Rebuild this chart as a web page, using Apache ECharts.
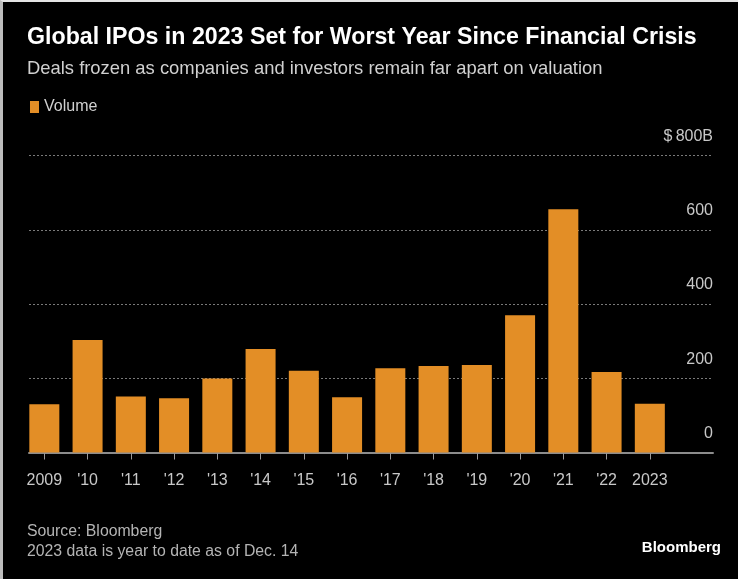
<!DOCTYPE html>
<html>
<head>
<meta charset="utf-8">
<script src="https://cdn.jsdelivr.net/npm/echarts@6/dist/echarts.min.js"></script>
<style>
  html, body { margin: 0; padding: 0; background: #000; }
  #frame { width: 738px; height: 579px; box-sizing: border-box; border-top: 2px solid #e4e4e4; border-left: 3px solid #bdbdbd; background: #000; }
  #chart { width: 735px; height: 577px; }
</style>
</head>
<body>
<div id="frame"><div id="chart"></div></div>
<script>
// Global IPO volume by year, $ billions (2023 is year to date)
const years = ['2009', "'10", "'11", "'12", "'13", "'14", "'15", "'16", "'17", "'18", "'19", "'20", "'21", "'22", '2023'];
const volume = [130, 303, 151, 146, 199, 279, 220, 149, 227, 233, 236, 370, 655, 217, 131];

// Right-hand value axis ticks
const yTickValues = [0, 200, 400, 600, 800];
const yTickLabels = ['0', '200', '400', '600', '$\u2009800B'];

const FONT = '"Liberation Sans", Arial, sans-serif';
const ORANGE = '#E38E26';

const chart = echarts.init(document.getElementById('chart'), null, { renderer: 'canvas' });

chart.setOption({
  backgroundColor: '#000',
  animation: false,
  textStyle: { fontFamily: FONT },
  title: [
    {
      text: 'Global IPOs in 2023 Set for Worst Year Since Financial Crisis',
      left: 24, top: 22, padding: 0,
      textStyle: { color: '#ffffff', fontSize: 23.2, fontWeight: 'bold', lineHeight: 28, fontFamily: FONT }
    },
    {
      text: 'Deals frozen as companies and investors remain far apart on valuation',
      left: 24, top: 56, padding: 0,
      textStyle: { color: '#d0d0d0', fontSize: 18.4, fontWeight: 'normal', lineHeight: 22, fontFamily: FONT }
    },
    {
      text: 'Source: Bloomberg\n2023 data is year to date as of Dec. 14',
      left: 24, top: 520, padding: 0,
      textStyle: { color: '#b4b4b4', fontSize: 15.8, fontWeight: 'normal', lineHeight: 19.5, fontFamily: FONT }
    },
    {
      text: 'Bloomberg',
      right: 17, top: 536, padding: 0,
      textStyle: { color: '#ffffff', fontSize: 15, fontWeight: 'bold', lineHeight: 20, fontFamily: FONT }
    }
  ],
  legend: {
    data: ['Volume'],
    left: 27, top: 97, padding: 0,
    icon: 'rect', itemWidth: 9, itemHeight: 12,
    textStyle: { color: '#d0d0d0', fontSize: 16, fontFamily: FONT }
  },
  grid: [
    // bar area
    { left: 19.7, top: 153.5, width: 648.75, height: 297 },
    // gridlines and right-hand labels, running wider than the bars
    { left: 26, top: 153.5, width: 684, height: 297 }
  ],
  xAxis: [
    {
      type: 'category', gridIndex: 0, data: years,
      axisLine: { show: false },
      axisTick: { show: true, interval: 0, alignWithLabel: true, length: 7, lineStyle: { color: '#9a9a9a', width: 1 } },
      axisLabel: { interval: 0, color: '#c8c8c8', fontSize: 16, margin: 20, fontFamily: FONT }
    },
    {
      type: 'value', gridIndex: 1, min: 0, max: 1,
      axisLine: { show: true, lineStyle: { color: '#8c8c8c', width: 2 } },
      axisTick: { show: false }, axisLabel: { show: false }, splitLine: { show: false }
    }
  ],
  yAxis: [
    { type: 'value', gridIndex: 0, min: 0, max: 800, interval: 200, show: false },
    {
      type: 'value', gridIndex: 1, position: 'right', min: 0, max: 800, interval: 200,
      axisLine: { show: false }, axisTick: { show: false },
      splitLine: { show: true, lineStyle: { type: [2, 2], color: '#7a7a7a', width: 1 } },
      axisLabel: {
        inside: true, margin: 0, verticalAlign: 'bottom', padding: [0, 0, 11, 0],
        color: '#c8c8c8', fontSize: 16, fontFamily: FONT,
        formatter: v => {
          const i = yTickValues.indexOf(v);
          return i >= 0 ? yTickLabels[i] : '';
        }
      }
    }
  ],
  series: [
    {
      name: 'Volume', type: 'bar', xAxisIndex: 0, yAxisIndex: 0,
      data: volume, barWidth: 30,
      itemStyle: { color: ORANGE }
    }
  ]
});
</script>
</body>
</html>
